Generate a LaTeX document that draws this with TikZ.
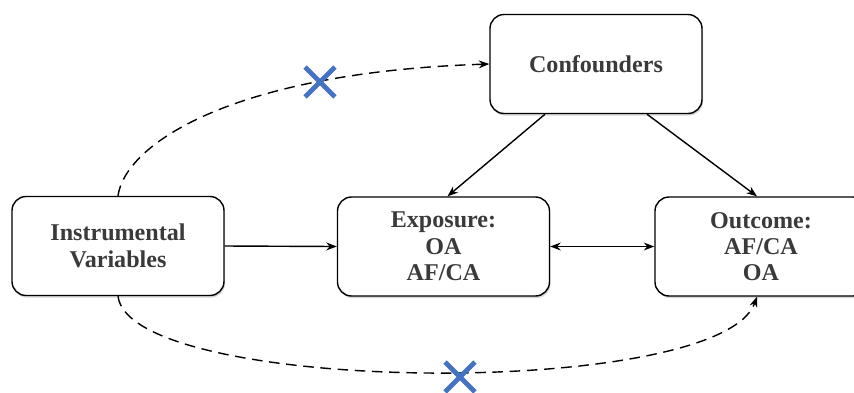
\documentclass[tikz,border=0pt]{standalone}
\usepackage{fontspec}
\setmainfont{Liberation Serif}
\usetikzlibrary{calc}
\usetikzlibrary{arrows.meta}
\usetikzlibrary{shadows}
\usetikzlibrary{shapes.misc}

\definecolor{crossblue}{HTML}{4472C4}
\definecolor{boxtext}{HTML}{3A3A3A}

\begin{document}
\begin{tikzpicture}[
    >={Stealth[length=6pt, width=4.5pt]},
    box/.style={draw, line width=0.8pt, rounded corners=8pt, fill=white,
        minimum width=4.24cm, minimum height=1.98cm, align=center,
        text=boxtext, font=\fontsize{13.7}{15}\selectfont\bfseries,
        drop shadow={shadow xshift=0.6pt, shadow yshift=-1.2pt,
            opacity=0.35, fill=black!45}},
    link/.style={->, line width=0.8pt},
    dashlink/.style={->, line width=0.8pt, dash pattern=on 6pt off 3.8pt},
    nope/.style={cross out, draw=crossblue, line width=2.8pt,
        minimum size=0.5cm, inner sep=0pt}
]
\useasboundingbox (0, 0) rectangle (17.08, -7.84);

% boxes
\node [box] (conf)  at (11.92, -1.28) {Confounders};
\node [box] (instr) at (2.36, -4.92)  {Instrumental\\Variables};
\node [box] (expo)  at (8.87, -4.93)  {Exposure:\\OA\\AF/CA};
\node [box] (outc)  at (15.22, -4.93) {Outcome:\\AF/CA\\OA};

% arrows
\draw [link] (instr.east) -- (expo.west);
\draw [<->, line width=0.8pt] (expo.east) -- (outc.west);
\draw [link] ($(conf.south)+(-1.02, 0)$) -- ($(expo.north)+(0.08, 0)$);
\draw [link] ($(conf.south)+(1.02, 0)$) -- ($(outc.north)+(-0.08, 0)$);

% dashed paths
\draw [dashlink] (instr.north)
    .. controls (2.5, -2.9) and (4.6, -1.45) .. (conf.west);
\draw [dashlink] (instr.south)
    .. controls (2.6, -7.9) and (14.4, -8.0) .. ($(outc.south)+(-0.08, 0)$);

% crosses
\node [nope] (cut1) at (6.4, -1.64) {};
\node [nope] (cut2) at (9.2, -7.54) {};

\end{tikzpicture}
\end{document}
